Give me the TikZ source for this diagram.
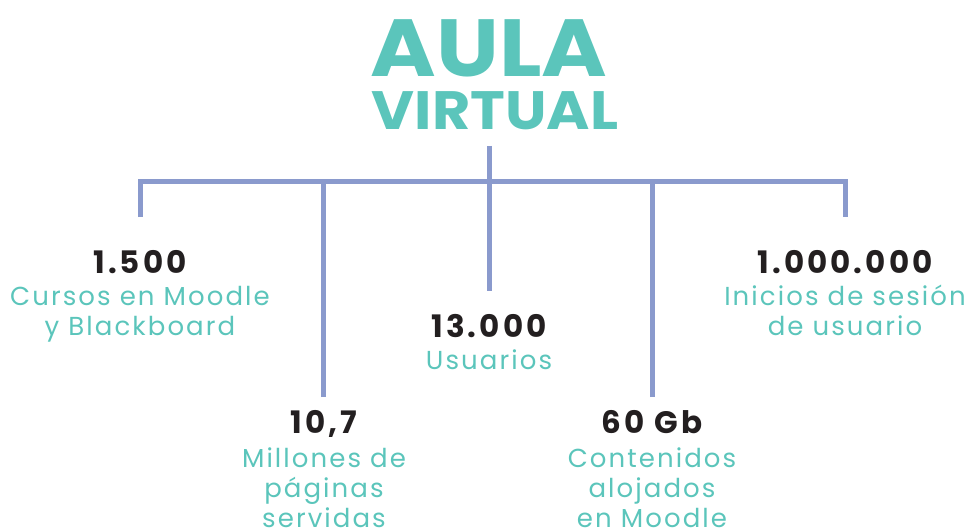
\documentclass[tikz,border=0pt]{standalone}
\usepackage{fontspec}
\setmainfont{Poppins}
\newfontfamily\statfont{Poppins}[LetterSpace=10]
\newfontfamily\labfont{Poppins}[LetterSpace=8]
\usetikzlibrary{positioning}
\definecolor{aulateal}{HTML}{5BC5BB}
\definecolor{aulaline}{HTML}{8A9ACD}
\definecolor{aulaink}{HTML}{231F20}
\tikzset{bar/.style={aulaline,line width=5pt},
  every node/.style={inner sep=0pt, anchor=base},
  bigtitle/.style={text=aulateal, xscale=1.1, transform shape, font=\bfseries\fontsize{81}{81}\selectfont},
  subtitle/.style={text=aulateal, xscale=1.09, transform shape, font=\bfseries\fontsize{54}{54}\selectfont},
  stat/.style={text=aulaink, font=\statfont\bfseries\fontsize{31}{31}\selectfont},
  statlabel/.style={text=aulateal, align=center, font=\labfont\fontsize{26}{30}\selectfont}}

\begin{document}
\begin{tikzpicture}[x=1pt,y=-1pt]
  \useasboundingbox (0,0) rectangle (969,532);
  % title
  \node[bigtitle] (aula) at (489,77) {AULA};
  \node[subtitle] (virtual) at (495,130) {VIRTUAL};
  % tree
  \coordinate (stem) at (489,146);
  \coordinate (hub)  at (489,181.5);
  \coordinate (e1) at (140,217);
  \coordinate (e2) at (323,397);
  \coordinate (e3) at (489,291);
  \coordinate (e4) at (652,397);
  \coordinate (e5) at (845,217);
  \draw[bar] (e1) |- (hub) -| (e5);
  \draw[bar] (stem) -- (e3);
  \draw[bar] (e2) -- (e2 |- hub);
  \draw[bar] (e4) -- (e4 |- hub);
  % figures (base of a label = its last line)
  \node[stat] (n1) at (140,273) {1.500};
  \node[statlabel] (l1) at (140,335) {Cursos en Moodle\\y Blackboard};
  \node[stat] (n2) at (324,433) {10,7};
  \node[statlabel] (l2) at (324,527) {Millones de\\páginas\\servidas};
  \node[stat] (n3) at (489,337) {13.000};
  \node[statlabel] (l3) at (489,369) {Usuarios};
  \node[stat] (n4) at (652,433) {60 Gb};
  \node[statlabel] (l4) at (652,527) {Contenidos\\alojados\\en Moodle};
  \node[stat] (n5) at (845,273) {1.000.000};
  \node[statlabel] (l5) at (845,335) {Inicios de sesión\\de usuario};
\end{tikzpicture}
\end{document}
